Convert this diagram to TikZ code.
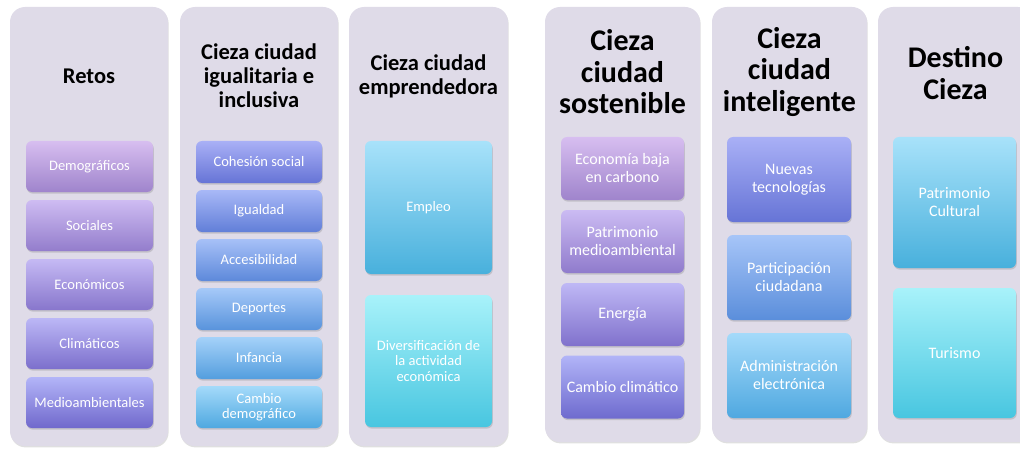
\documentclass[tikz,border=0pt]{standalone}
\usepackage{fontspec}
\setmainfont{Carlito}
\usepackage{xcolor}
\definecolor{panelbg}{HTML}{DFDBE8}
\definecolor{lilacTop}{HTML}{D7BEF0}
\definecolor{lilacBot}{HTML}{9F84CC}
\definecolor{violTop}{HTML}{B3B5F8}
\definecolor{violBot}{HTML}{7068CC}
\definecolor{indTop}{HTML}{A9B0F6}
\definecolor{indBot}{HTML}{6674D6}
\definecolor{skyTop}{HTML}{A4DAFA}
\definecolor{skyBot}{HTML}{4FA8E0}
\definecolor{blueTop}{HTML}{A8E2FA}
\definecolor{blueBot}{HTML}{48B0DC}
\definecolor{cyanTop}{HTML}{A8F2FA}
\definecolor{cyanBot}{HTML}{48C6E0}
\usetikzlibrary{shadows}

\begin{document}
\begin{tikzpicture}[
  x=1pt, y=1pt,
  panel/.style={fill=panelbg, rounded corners=15pt, inner sep=0pt,
                drop shadow={shadow xshift=0.6pt, shadow yshift=-1.4pt, opacity=0.25}},
  head/.style={font=\bfseries\fontsize{22.5}{24}\selectfont, align=center, inner sep=0pt},
  bighead/.style={head, font=\bfseries\fontsize{30}{31.5}\selectfont},
  item/.style 2 args={top color=#1, bottom color=#2, rounded corners=6pt,
                      text=white, align=center, inner sep=0pt,
                      font=\fontsize{14.5}{15.5}\selectfont,
                      drop shadow={shadow xshift=0.8pt, shadow yshift=-1.6pt, opacity=0.3}},
  bigitem/.style 2 args={item={#1}{#2}, font=\fontsize{16}{18}\selectfont}
]
\useasboundingbox (0,0) rectangle (1020,448);
\clip (0,0) rectangle (1020,448);

% columns
\node[panel, minimum width=158, minimum height=439] (retos) at (89,221.5) {};
\node[panel, minimum width=158, minimum height=439] (igual) at (259,221.5) {};
\node[panel, minimum width=159, minimum height=439] (empre) at (428.5,221.5) {};
\node[panel, minimum width=155, minimum height=435] (soste) at (622.5,223.5) {};
\node[panel, minimum width=155, minimum height=435] (intel) at (789.5,223.5) {};
\node[panel, minimum width=155, minimum height=435] (desti) at (955.5,223.5) {};

% titles
\node[head] (retosT) at (89,372) {Retos};
\node[head] (igualT) at (259,372) {Cieza ciudad\\igualitaria e\\inclusiva};
\node[head] (empreT) at (428.5,371.5) {Cieza ciudad\\emprendedora};
\node[bighead] (sosteT) at (622.5,376) {Cieza\\ciudad\\sostenible};
\node[bighead] (intelT) at (789.5,376) {Cieza\\ciudad\\inteligente};
\node[bighead] (destiT) at (955.5,375) {Destino\\Cieza};

% Retos
\node[item={lilacTop}{lilacBot}, minimum width=127, minimum height=51] (demo) at (89.5,281.5) {Demográficos};
\node[item={lilacTop!75!violTop}{lilacBot!75!violBot}, minimum width=127, minimum height=51] (soci) at (89.5,222.5) {Sociales};
\node[item={lilacTop!50!violTop}{lilacBot!50!violBot}, minimum width=127, minimum height=51] (econ) at (89.5,163.5) {Económicos};
\node[item={lilacTop!25!violTop}{lilacBot!25!violBot}, minimum width=127, minimum height=51] (clim) at (89.5,104.5) {Climáticos};
\node[item={violTop}{violBot}, minimum width=127, minimum height=51] (medi) at (89.5,45.5) {Medioambientales};

% Cieza ciudad igualitaria e inclusiva
\node[item={indTop}{indBot}, minimum width=126, minimum height=42] (cohe) at (259,286) {Cohesión social};
\node[item={indTop!80!skyTop}{indBot!80!skyBot}, minimum width=126, minimum height=42] (igua) at (259,237) {Igualdad};
\node[item={indTop!60!skyTop}{indBot!60!skyBot}, minimum width=126, minimum height=42] (acce) at (259,188) {Accesibilidad};
\node[item={indTop!40!skyTop}{indBot!40!skyBot}, minimum width=126, minimum height=42] (depo) at (259,139) {Deportes};
\node[item={indTop!20!skyTop}{indBot!20!skyBot}, minimum width=126, minimum height=42] (infa) at (259,90) {Infancia};
\node[item={skyTop}{skyBot}, minimum width=126, minimum height=42] (camd) at (259,41) {Cambio\\demográfico};

% Cieza ciudad emprendedora
\node[item={blueTop}{blueBot}, minimum width=127, minimum height=133] (empl) at (428.5,240.5) {Empleo};
\node[item={cyanTop}{cyanBot}, minimum width=127, minimum height=132] (dive) at (428.5,87) {Diversificación de\\la actividad\\económica};

% Cieza ciudad sostenible
\node[bigitem={lilacTop}{lilacBot}, minimum width=123, minimum height=63] (ecob) at (622.5,279.5) {Economía baja\\en carbono};
\node[bigitem={lilacTop!67!violTop}{lilacBot!67!violBot}, minimum width=123, minimum height=63] (patm) at (622.5,206.5) {Patrimonio\\medioambiental};
\node[bigitem={lilacTop!33!violTop}{lilacBot!33!violBot}, minimum width=123, minimum height=63] (ener) at (622.5,133.5) {Energía};
\node[bigitem={violTop!85!indTop}{violBot!80!indBot}, minimum width=123, minimum height=63] (camc) at (622.5,61) {Cambio climático};

% Cieza ciudad inteligente
\node[bigitem={indTop}{indBot}, minimum width=124, minimum height=85] (nuev) at (789,268.5) {Nuevas\\tecnologías};
\node[bigitem={indTop!50!skyTop}{indBot!50!skyBot}, minimum width=124, minimum height=85] (part) at (789,170.5) {Participación\\ciudadana};
\node[bigitem={skyTop}{skyBot}, minimum width=124, minimum height=85] (admi) at (789,72.5) {Administración\\electrónica};

% Destino Cieza
\node[bigitem={blueTop}{blueBot}, minimum width=123, minimum height=131] (patc) at (954.5,245.5) {Patrimonio\\Cultural};
\node[bigitem={cyanTop}{cyanBot}, minimum width=123, minimum height=130] (turi) at (954.5,95) {Turismo};
\end{tikzpicture}
\end{document}
